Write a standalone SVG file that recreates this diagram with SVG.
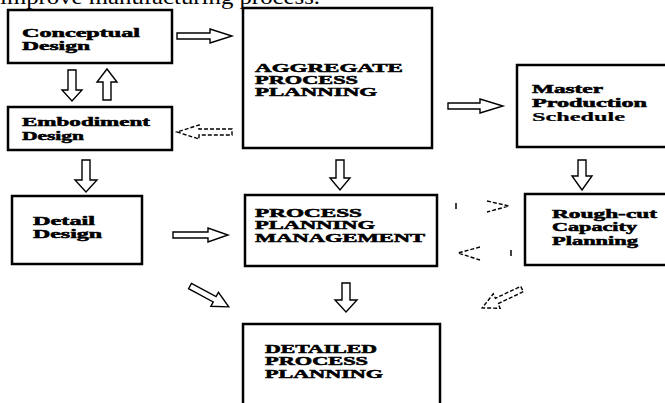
<svg xmlns="http://www.w3.org/2000/svg" width="665" height="403" viewBox="0 0 665 403">
<style>
.box{fill:#fff;stroke:#000;stroke-width:2.5}
.t{font-family:"Liberation Serif","DejaVu Serif",serif;font-weight:bold;font-size:12px;fill:#000;stroke:#000;stroke-width:0.5}
.c{font-size:11.5px}
.arr{fill:#fff;stroke:#000;stroke-width:1.4;stroke-linejoin:miter}
.dash{fill:none;stroke:#000;stroke-width:1.4;stroke-dasharray:4,2}
.top{font-family:"Liberation Serif","DejaVu Serif",serif;font-size:22px;fill:#000}
</style>
<rect width="665" height="403" fill="#fff"/>
<text class="top" x="0" y="4" textLength="320" lengthAdjust="spacingAndGlyphs">improve manufacturing process.</text>

<g id="conceptual">
<rect class="box" x="8" y="10" width="164" height="53"/>
<text class="t" x="22" y="37" textLength="118" lengthAdjust="spacingAndGlyphs">Conceptual</text>
<text class="t" x="22" y="50" textLength="68" lengthAdjust="spacingAndGlyphs">Design</text>
</g>
<g id="embodiment">
<rect class="box" x="8" y="107" width="164" height="43"/>
<text class="t" x="22" y="126" textLength="128" lengthAdjust="spacingAndGlyphs">Embodiment</text>
<text class="t" x="22" y="140" textLength="62" lengthAdjust="spacingAndGlyphs">Design</text>
</g>
<g id="detail">
<rect class="box" x="12" y="196" width="130" height="68"/>
<text class="t" x="33" y="225" textLength="62" lengthAdjust="spacingAndGlyphs">Detail</text>
<text class="t" x="33" y="238" textLength="69" lengthAdjust="spacingAndGlyphs">Design</text>
</g>
<g id="aggregate">
<rect class="box" x="243" y="8" width="189" height="140"/>
<text class="t c" x="255" y="72" textLength="148" lengthAdjust="spacingAndGlyphs">AGGREGATE</text>
<text class="t c" x="255" y="84" textLength="103" lengthAdjust="spacingAndGlyphs">PROCESS</text>
<text class="t c" x="255" y="96" textLength="122" lengthAdjust="spacingAndGlyphs">PLANNING</text>
</g>
<g id="master">
<rect class="box" x="517" y="65" width="152" height="82"/>
<text class="t" x="532" y="93" textLength="71" lengthAdjust="spacingAndGlyphs">Master</text>
<text class="t" x="532" y="107" textLength="115" lengthAdjust="spacingAndGlyphs">Production</text>
<text class="t" x="532" y="121" textLength="93" lengthAdjust="spacingAndGlyphs" style="stroke-width:0.2">Schedule</text>
</g>
<g id="ppm">
<rect class="box" x="245" y="195" width="192" height="71"/>
<text class="t c" x="255" y="217" textLength="107" lengthAdjust="spacingAndGlyphs">PROCESS</text>
<text class="t c" x="255" y="229" textLength="120" lengthAdjust="spacingAndGlyphs">PLANNING</text>
<text class="t c" x="255" y="242" textLength="170" lengthAdjust="spacingAndGlyphs">MANAGEMENT</text>
</g>
<g id="roughcut">
<rect class="box" x="525" y="194" width="144" height="71"/>
<text class="t" x="552" y="218" textLength="105" lengthAdjust="spacingAndGlyphs">Rough-cut</text>
<text class="t" x="552" y="231" textLength="85" lengthAdjust="spacingAndGlyphs">Capacity</text>
<text class="t" x="552" y="245" textLength="86" lengthAdjust="spacingAndGlyphs">Planning</text>
</g>
<g id="detailed">
<rect class="box" x="243" y="324" width="197" height="86"/>
<text class="t c" x="265" y="353" textLength="112" lengthAdjust="spacingAndGlyphs">DETAILED</text>
<text class="t c" x="265" y="365" textLength="103" lengthAdjust="spacingAndGlyphs">PROCESS</text>
<text class="t c" x="265" y="378" textLength="118" lengthAdjust="spacingAndGlyphs">PLANNING</text>
</g>

<g id="connectors">
<path class="arr" d="M177,33 L210,33 L210,29 L232,36 L210,43 L210,39 L177,39 Z"/>
<path class="arr" d="M232,129 L199,129 L199,125 L177,132 L199,139 L199,135 L232,135 Z" stroke-dasharray="4,2"/>
<path class="arr" d="M68,70 L68,90 L62,90 L72,101 L82,90 L76,90 L76,70 Z"/>
<path class="arr" d="M103,100 L103,82 L97,82 L107,69 L117,82 L111,82 L111,100 Z"/>
<path class="arr" d="M82,160 L82,180 L75,180 L86,192 L97,180 L90,180 L90,160 Z"/>
<path class="arr" d="M336,160 L336,178 L330,178 L340,190 L350,178 L344,178 L344,160 Z"/>
<path class="arr" d="M448,103 L480,103 L480,99 L503,106 L480,113 L480,109 L448,109 Z"/>
<path class="arr" d="M578,160 L578,176 L572,176 L582,190 L592,176 L586,176 L586,160 Z"/>
<path class="arr" d="M173,232 L208,232 L208,228 L228,235 L208,242 L208,238 L173,238 Z"/>
<path class="dash" d="M487,201 L509,206 L487,212"/>
<line x1="456" y1="203" x2="456" y2="209" stroke="#000" stroke-width="1.5"/>
<path class="dash" d="M480,247 L458,253 L480,260"/>
<line x1="511" y1="250" x2="511" y2="256" stroke="#000" stroke-width="1.5"/>
<path class="arr" d="M342,283 L342,300 L335,300 L346,312 L357,300 L350,300 L350,283 Z"/>
<path class="arr" transform="translate(190,286) rotate(28.3)" d="M0,-3 L28,-3 L28,-8 L44,0 L28,8 L28,3 L0,3 Z"/>
<path class="arr" transform="translate(522,289) rotate(154.6)" d="M0,-3 L28,-3 L28,-8 L44,0 L28,8 L28,3 L0,3 Z" stroke-dasharray="4,2"/>
</g>
</svg>
